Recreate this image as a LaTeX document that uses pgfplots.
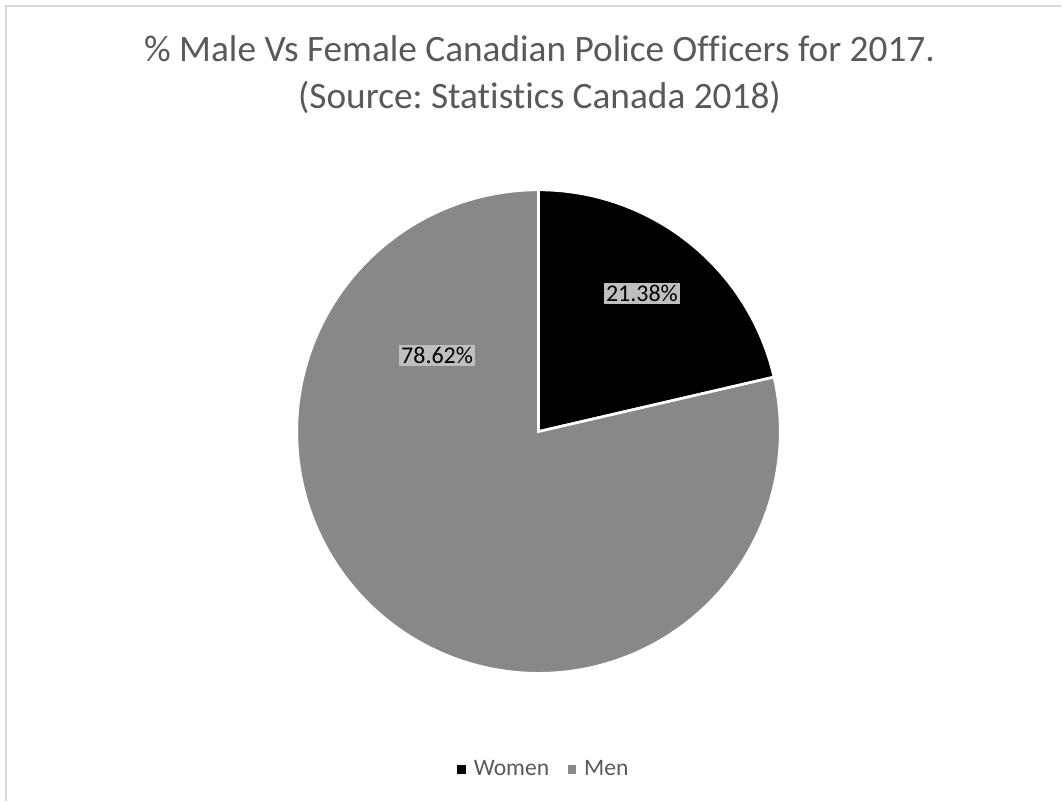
\documentclass[border=0pt]{standalone}
\usepackage{fontspec}
\setmainfont{Carlito}[Ligatures={NoCommon}]
\usepackage{pgfplots}
\pgfplotsset{compat=1.18}
\usepackage{pgfplotstable}
\frenchspacing
\definecolor{mengray}{HTML}{888888}
\definecolor{lblgray}{HTML}{BFBFBF}
\definecolor{txtgray}{HTML}{595959}
\definecolor{framegray}{HTML}{D9D9D9}
\pgfplotstableread{
label share
Women 21.38
Men 78.62
}\piedata
\begin{document}
\begin{tikzpicture}
\pgfplotstablegetelem{0}{share}\of\piedata
\let\womenshare\pgfplotsretval
\pgfmathsetmacro{\womenang}{90-3.6*\womenshare}
\begin{axis}[
  scale only axis, width=796.5pt, height=601.5pt,
  xmin=0, xmax=1062, ymin=0, ymax=802,
  hide axis, clip=false,
  legend columns=2,
  legend style={at={(0.513,0.040)}, anchor=center, draw=none, fill=none,
    font=\fontsize{17.7}{20}\selectfont\color{txtgray},
    /tikz/every even column/.append style={column sep=12pt}},
]
\path (axis cs:0,0) rectangle (axis cs:1062,802);
\draw[framegray, line width=1.5pt] (axis cs:6,0) -- (axis cs:6,796) -- (axis cs:1062,796);
\addplot[forget plot, fill=black, draw=white, line width=2pt, line join=miter, domain=\womenang:90, samples=90]
  ({539+242*cos(x)},{370+242*sin(x)}) -- (axis cs:539,370) -- cycle;
\addplot[forget plot, fill=mengray, draw=white, line width=2pt, line join=miter, domain=-270:\womenang, samples=300]
  ({539+242*cos(x)},{370+242*sin(x)}) -- (axis cs:539,370) -- cycle;
\addlegendimage{legend image code/.code={\fill[black] (0pt,-2.7pt) rectangle (5.4pt,2.7pt); \path (9.9pt,0pt);}}
\addlegendentry{Women}
\addlegendimage{legend image code/.code={\fill[mengray] (0pt,-2.7pt) rectangle (5.4pt,2.7pt); \path (9.9pt,0pt);}}
\addlegendentry{Men}
\node[fill=lblgray, inner sep=1.5pt, font=\fontsize{18}{20}\selectfont] at (axis cs:642.5,508.5) {21.38\%};
\node[fill=lblgray, inner sep=1.5pt, font=\fontsize{18}{20}\selectfont] at (axis cs:437.5,446) {78.62\%};
\node[anchor=base, text=txtgray, font=\fontsize{28}{33}\selectfont] at (axis cs:540,740)
  {\% Male Vs Female Canadian Police Officers for 2017.};
\node[anchor=base, text=txtgray, font=\fontsize{28}{33}\selectfont] at (axis cs:540,693)
  {(Source: Statistics Canada 2018)};
\end{axis}
\end{tikzpicture}
\end{document}
